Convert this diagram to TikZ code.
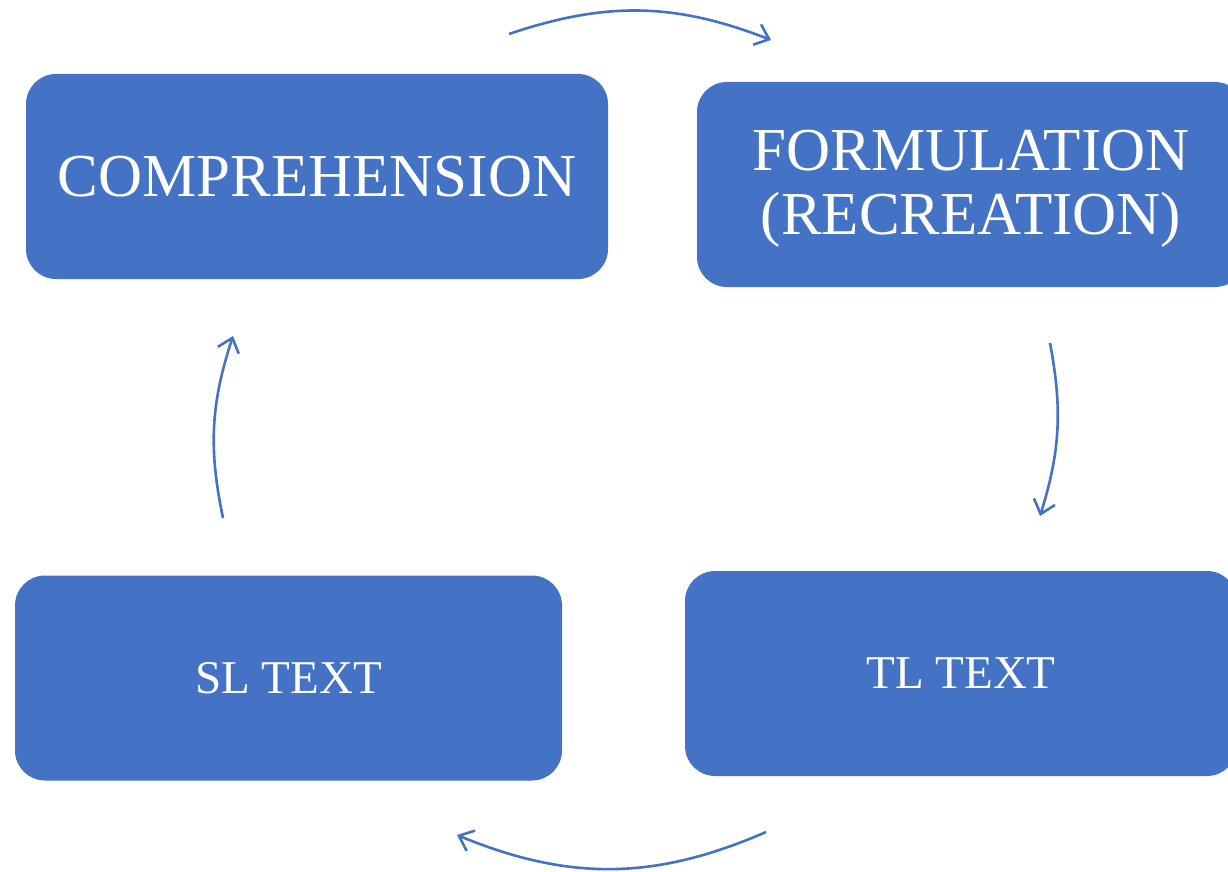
\documentclass[tikz,border=0pt]{standalone}
\usepackage{fontspec}
\setmainfont{Liberation Serif}
\usetikzlibrary{arrows.meta}
\definecolor{boxblue}{HTML}{4472C4}
\begin{document}
\begin{tikzpicture}[x=1pt,y=1pt,
  box/.style={fill=boxblue,draw=none,rounded corners=30pt,text=white,align=center,inner sep=0pt,minimum height=205pt},
  bigtext/.style={font=\fontsize{61}{64}\selectfont},
  smalltext/.style={font=\fontsize{47}{50}\selectfont},
  flow/.style={draw=boxblue,line width=2.6pt,-{Straight Barb[length=13pt,width=22pt,line width=2.6pt]}}]
\useasboundingbox (0,0) rectangle (1228,-872);
\clip (0,0) rectangle (1228,-872);
\node[box,bigtext,minimum width=582pt] (comp) at (317,-176.5) {COMPREHENSION};
\node[box,minimum width=548pt] (form) at (971,-184.5) {};
\node[bigtext,text=white,align=center,inner sep=0pt] (formtext) at (971,-188.5) {FORMULATION\\(RECREATION)};
\node[box,smalltext,minimum width=547pt] (sl) at (288.5,-678) {SL TEXT};
\node[box,smalltext,minimum width=552pt] (tl) at (961,-673.5) {TL TEXT};
\coordinate (a1) at (509,-34);
\coordinate (a2) at (771,-40);
\coordinate (b1) at (1050,-343);
\coordinate (b2) at (1040,-516);
\coordinate (c1) at (766,-832);
\coordinate (c2) at (457,-835);
\coordinate (d1) at (223,-518);
\coordinate (d2) at (233,-336);
\draw[flow] (a1) to[bend left=20] (a2);
\draw[flow] (b1) to[bend left=14] (b2);
\draw[flow] (c1) to[bend left=23] (c2);
\draw[flow] (d1) to[bend left=15] (d2);
\end{tikzpicture}
\end{document}
